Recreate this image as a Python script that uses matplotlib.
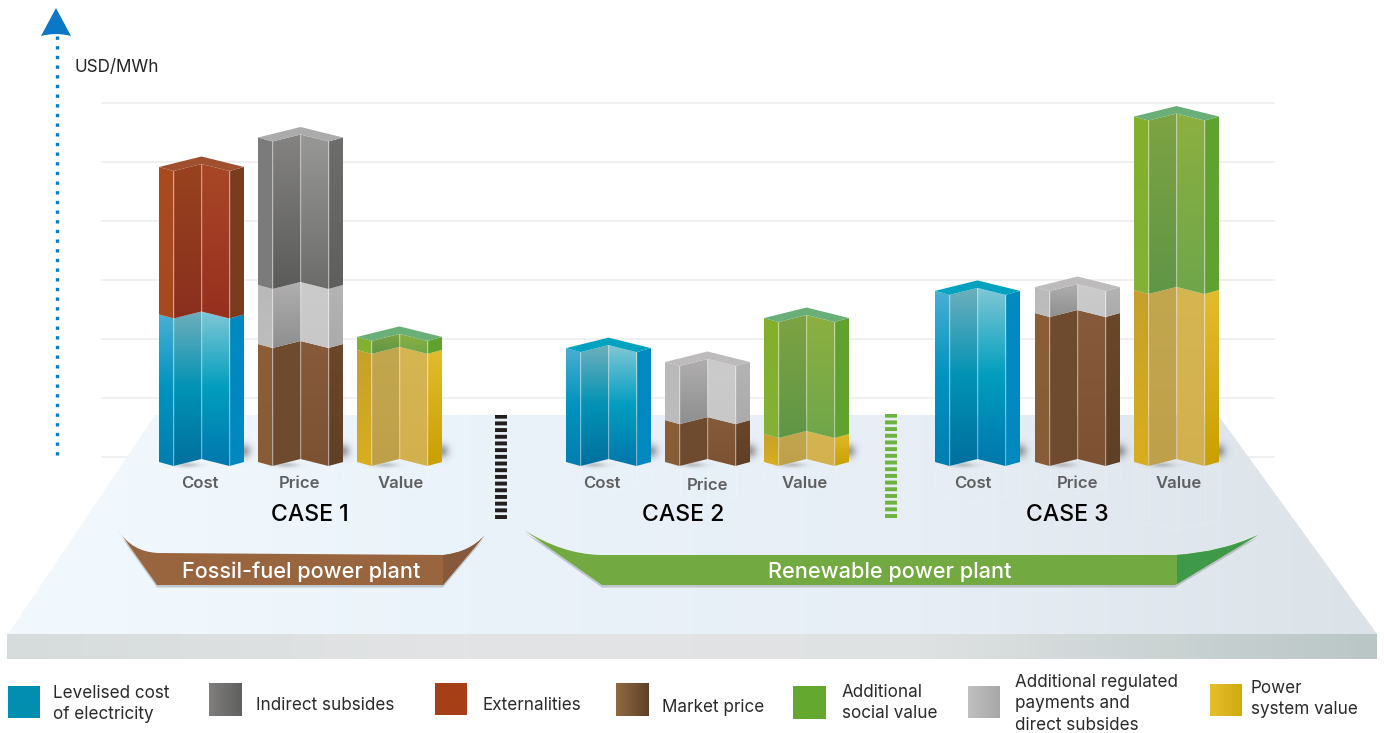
import numpy as np
import matplotlib
matplotlib.use('Agg')
import matplotlib.pyplot as plt
from matplotlib.colors import LinearSegmentedColormap
from matplotlib.patches import Polygon, PathPatch
from matplotlib.path import Path

W, H = 1384, 733
plt.rcParams['font.family'] = ['Inter', 'DejaVu Sans']

# data (USD/MWh, the axis has no numbers so unit is a guess)
labels = ['Cost', 'Price', 'Value'] * 3
lcoe = [50, 0, 0, 38.6, 0, 0, 58, 0, 0]
market_price = [0, 40, 0, 0, 14.2, 0, 0, 50.5, 0]
regulated = [0, 20, 0, 0, 19.7, 0, 0, 8.8, 0]
indirect = [0, 50, 0, 0, 0, 0, 0, 0, 0]
externalities = [50, 0, 0, 0, 0, 0, 0, 0, 0]
system_value = [0, 0, 38, 0, 0, 9.5, 0, 0, 58.3]
social_value = [0, 0, 4.4, 0, 0, 39.3, 0, 0, 58.8]
grid_values = [0, 20, 40, 60, 80, 100, 120]
cases = ['CASE 1', 'CASE 2', 'CASE 3']

# layout
col_left = [159, 258, 357, 566, 665, 764, 935, 1035, 1134]
ghost_depth = [18, 18, 18, 18, 28, 18, 30, 20, 56]
label_x = [200, 299, 401, 602, 708, 805, 973, 1077, 1179]
label_y = [484, 484, 484, 484, 485, 484, 484, 484, 484]
case_x = [310, 683, 1067]
BASE = 457
SCALE = 2.95
FOOT = 5

# left, inner left, inner right, right face; top to bottom colour stops
styles = {
    'lcoe': dict(faces=[['#4DB0D4', '#0093BF', '#007EB0'], ['#6FAFBC', '#0092B4', '#006F9E'],
                        ['#80C8D6', '#009DBE', '#0077AC'], ['#0088BF', '#0088BF']], cap='#00A3BF'),
    'externalities': dict(faces=[['#A84B1E', '#A8481F'], ['#98431F', '#8A2F1E'],
                                 ['#A84727', '#96301F'], ['#7A3C1F', '#7A3C1F']], cap='#A0502E'),
    'indirect': dict(faces=[['#7B7B7B', '#7B7B7B'], ['#848382', '#5B5B59'],
                            ['#989897', '#6C6C6B'], ['#6D6D6C', '#5F5F5E']], cap='#ABABAB'),
    'regulated': dict(faces=[['#B9B9B9', '#BDBDBD'], ['#B0AEAE', '#8F8F8F'],
                             ['#CBCBCB', '#C8C8C8'], ['#B4B4B4', '#ABABAB']], cap='#BDBBBB'),
    'market': dict(faces=[['#8B5E36', '#875C36'], ['#6F4C2F', '#6E4A2E'],
                          ['#855B3B', '#7C5233'], ['#6B4729', '#5F3F26']], cap='#8B6A4A'),
    'social': dict(faces=[['#82B02A', '#82B236'], ['#7EA342', '#5F9646'],
                          ['#8CB040', '#6FA64A'], ['#60A22E', '#5FA22E']], cap='#6BAF78'),
    'system': dict(faces=[['#C5A02B', '#D9AE20'], ['#C2A74F', '#BFA04A'],
                          ['#D5B651', '#D2B04E'], ['#E2BD2E', '#CA9F00']], cap='#D5B651'),
}
stack_order = [('lcoe', lcoe), ('market', market_price), ('system', system_value),
               ('regulated', regulated), ('indirect', indirect),
               ('externalities', externalities), ('social', social_value)]


def px_to_value(y):
    return (BASE - y) / SCALE


def gradient(ax, x0, x1, y0, y1, colors, pts=None, horizontal=False, zorder=2):
    # y0 is the top of the gradient, in the axes own units
    cmap = LinearSegmentedColormap.from_list('g', colors)
    arr = np.linspace(0, 1, 256)
    arr = arr.reshape(1, -1) if horizontal else arr.reshape(-1, 1)
    im = ax.imshow(arr, cmap=cmap, vmin=0, vmax=1, extent=[x0, x1, y1, y0], aspect='auto',
                   origin='upper', interpolation='bilinear', zorder=zorder)
    if pts is not None:
        patch = Polygon(pts, closed=True, transform=ax.transData, fc='none', ec='none')
        ax.add_patch(patch)
        im.set_clip_path(patch)
    return im


def blob(ax, cx, cy, rx, ry, alpha=0.6):
    # soft contact shadow, pixel axes only
    xx, yy = np.meshgrid(np.linspace(-2, 2, 60), np.linspace(-2, 2, 60))
    rgba = np.zeros((60, 60, 4))
    rgba[..., :3] = 0.4
    rgba[..., 3] = alpha * np.exp(-(xx ** 2 + yy ** 2))
    ax.imshow(rgba, extent=[cx - 2 * rx, cx + 2 * rx, cy + 2 * ry, cy - 2 * ry], aspect='auto',
              interpolation='bilinear', zorder=2)


def draw_segment(ax, left, v0, v1, name, is_top):
    st = styles[name]
    xs = [left, left + 14.5, left + 42.5, left + 70.5, left + 85]
    off = [0, 4, -3, 4, 0]
    # convert pixel offsets to value units so the faces live on the value axis
    y0 = v0 - FOOT / SCALE
    y1 = v1 - FOOT / SCALE
    low = [y0 - o / SCALE for o in off]
    up = [y1 - o / SCALE for o in off]
    for i in range(4):
        pts = [(xs[i], low[i]), (xs[i + 1], low[i + 1]), (xs[i + 1], up[i + 1]), (xs[i], up[i])]
        gradient(ax, xs[i], xs[i + 1], max(up), min(low), st['faces'][i], pts)
    for i in (1, 2, 3):
        ax.plot([xs[i], xs[i]], [low[i], up[i]], color='white', alpha=0.1, lw=0.8, zorder=3)
    if is_top:
        cap = [(xs[0], y1), (xs[2], y1 + 10.5 / SCALE), (xs[4], y1),
               (xs[3], up[3]), (xs[2], up[2]), (xs[1], up[1])]
        ax.add_patch(Polygon(cap, closed=True, fc=st['cap'], ec='none', zorder=3))


fig = plt.figure(figsize=(W / 100, H / 100), dpi=100)
value_lim = (px_to_value(H), px_to_value(0))

# gridlines under the floor
ax_grid = fig.add_axes([0, 0, 1, 1], zorder=0)
ax_grid.set_xlim(0, W)
ax_grid.set_ylim(*value_lim)
ax_grid.axis('off')
ax_grid.hlines(grid_values, 101, 1275, color='#EDEDED', lw=1.2)

# floor, labels, legend, all in pixels
ax_px = fig.add_axes([0, 0, 1, 1], zorder=1)
ax_px.axis('off')
ax_px.patch.set_alpha(0)

floor = [(155, 415), (1218, 415), (1377, 634), (8, 634)]
gradient(ax_px, 8, 1377, 415, 634, ['#F2F9FE', '#EBF3FA', '#E7EEF5', '#DBE2E8'], floor, horizontal=True, zorder=1)
gradient(ax_px, 7, 1377, 634, 659, ['#D6DCDC', '#E3E4E5', '#DFE2E3', '#BAC6C6'],
         [(7, 634), (1377, 634), (1377, 659), (7, 659)], horizontal=True, zorder=1)

# faint reflections of the columns on the floor
for left, depth in zip(col_left, ghost_depth):
    foot = 462
    xs = [left, left + 14.5, left + 42.5, left + 70.5, left + 85]
    ax_px.plot(xs, [foot + depth, foot + depth + 6, foot + depth + 12, foot + depth + 6, foot + depth],
               color='white', alpha=0.18, lw=0.7, zorder=1.5)
    for x, o in zip(xs, [0, 6, 12, 6, 0]):
        ax_px.plot([x, x], [foot + 4, foot + depth + o], color='white', alpha=0.16, lw=0.7, zorder=1.5)
    blob(ax_px, left + 85, 451, 7, 7, 0.6)
    blob(ax_px, left + 28, 465, 12, 2.4, 0.35)

# y axis arrow
ax_px.plot([56.5, 56.5], [455, 34], color='#0A7CC4', lw=2.4, dashes=(1.0, 1.9), zorder=2)
arrow = Path([(41, 36), (56, 8), (71, 36), (56, 32), (41, 36)],
             [Path.MOVETO, Path.LINETO, Path.LINETO, Path.CURVE3, Path.CURVE3])
ax_px.add_patch(PathPatch(arrow, fc='#0A78C4', ec='none', zorder=3))
ax_px.text(75, 68, 'USD/MWh', fontsize=12.3, color='#222222', va='center', ha='left')

# case dividers
ax_px.plot([500.5, 500.5], [519, 415], color='#231F20', lw=8.6, dashes=(0.33, 0.23), zorder=2)
ax_px.plot([891, 891], [518, 414], color='#6DB33F', lw=8.6, dashes=(0.33, 0.23), zorder=2)

# banners
banner_codes = [Path.MOVETO, Path.CURVE3, Path.CURVE3, Path.LINETO, Path.CURVE3, Path.CURVE3,
                Path.LINETO, Path.LINETO, Path.LINETO]
brown_pts = [(118, 530), (132, 552), (158, 553), (445, 555), (470, 552), (485, 535),
             (443, 585), (157, 585), (118, 530)]
green_pts = [(524, 530), (562, 554), (600, 555), (1175, 555), (1222, 552), (1258, 535),
             (1175, 585), (602, 585), (524, 530)]
for pts, col in ((brown_pts, '#99653F'), (green_pts, '#72A940')):
    shadow = [(x, y + 2.5) for x, y in pts]
    ax_px.add_patch(PathPatch(Path(shadow, banner_codes), fc='#7E8488', ec='none', alpha=0.4, zorder=2))
    ax_px.add_patch(PathPatch(Path(pts, banner_codes), fc=col, ec='none', zorder=3))
ax_px.add_patch(PathPatch(Path([(443, 555), (470, 552), (485, 535), (443, 585), (443, 555)],
                               [Path.MOVETO, Path.CURVE3, Path.CURVE3, Path.LINETO, Path.LINETO]),
                          fc='#85593A', ec='none', zorder=3))
ax_px.add_patch(PathPatch(Path([(1177, 555), (1222, 552), (1258, 535), (1177, 584), (1177, 555)],
                               [Path.MOVETO, Path.CURVE3, Path.CURVE3, Path.LINETO, Path.LINETO]),
                          fc='#3E9A49', ec='none', zorder=3))
ax_px.text(301, 572, 'Fossil-fuel power plant', fontsize=15.6, fontweight='medium', color='white',
           ha='center', va='center', zorder=4)
ax_px.text(890, 572, 'Renewable power plant', fontsize=15.6, fontweight='medium', color='white',
           ha='center', va='center', zorder=4)

for x, y, lab in zip(label_x, label_y, labels):
    ax_px.text(x, y, lab, fontsize=12, fontweight='semibold', color='#5E5F61', ha='center', va='center', zorder=4)
for x, lab in zip(case_x, cases):
    ax_px.text(x, 515, lab, fontsize=16.6, fontweight='medium', color='black', ha='center', va='center', zorder=4)

# legend
legend_items = [
    (8, 686, 32, ['#008FB0', '#008FB0'], 53, 704, 'Levelised cost\nof electricity'),
    (209, 683, 33, ['#807F7E', '#5F5F5F'], 256, 705, 'Indirect subsides'),
    (435, 683, 32, ['#A63F17', '#A63F17'], 483, 705, 'Externalities'),
    (616, 683, 33, ['#916A43', '#5E4027'], 662, 708, 'Market price'),
    (793, 686, 33, ['#65A830', '#65A830'], 842, 703, 'Additional\nsocial value'),
    (968, 686, 32, ['#C0C0C0', '#A7A7A7'], 1015, 704, 'Additional regulated\npayments and\ndirect subsides'),
    (1210, 684, 32, ['#E5BF2D', '#CFAA10'], 1251, 699, 'Power\nsystem value'),
]
for x, y, s, cols, tx, ty, txt in legend_items:
    gradient(ax_px, x, x + s, y, y + s, cols, horizontal=True, zorder=2)
    ax_px.text(tx, ty, txt, fontsize=12.3, color='#2A2A2A', ha='left', va='center', linespacing=1.36)
ax_px.set_xlim(0, W)
ax_px.set_ylim(H, 0)

# columns on top, in value units
ax = fig.add_axes([0, 0, 1, 1], zorder=2)
ax.axis('off')
ax.patch.set_alpha(0)
for c, left in enumerate(col_left):
    parts = [(name, vals[c]) for name, vals in stack_order if vals[c] > 0]
    bottom = 0
    for k, (name, v) in enumerate(parts):
        draw_segment(ax, left, bottom, bottom + v, name, k == len(parts) - 1)
        bottom += v
ax.set_xlim(0, W)
ax.set_ylim(*value_lim)

fig.savefig('out.png', dpi=100)
